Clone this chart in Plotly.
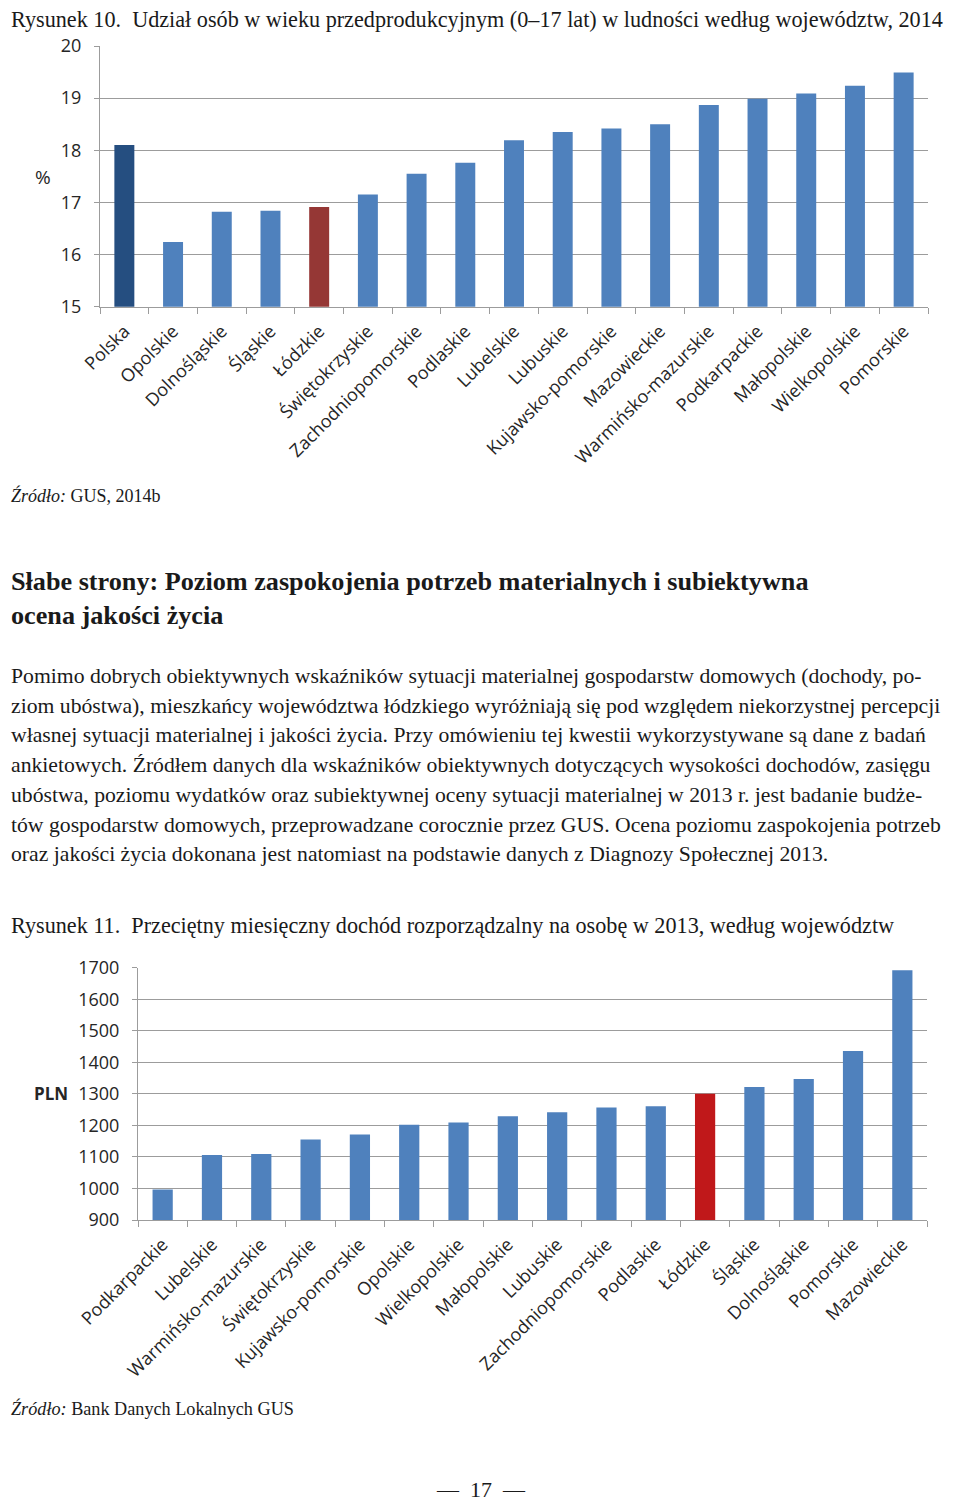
import plotly.graph_objects as go

# ---------- Data ----------
cats1 = ["Polska", "Opolskie", "Dolnośląskie", "Śląskie", "Łódzkie", "Świętokrzyskie",
         "Zachodniopomorskie", "Podlaskie", "Lubelskie", "Lubuskie", "Kujawsko-pomorskie",
         "Mazowieckie", "Warmińsko-mazurskie", "Podkarpackie", "Małopolskie",
         "Wielkopolskie", "Pomorskie"]
vals1 = [18.1, 16.24, 16.82, 16.84, 16.91, 17.15, 17.55, 17.76, 18.19, 18.35, 18.42,
         18.50, 18.87, 18.99, 19.09, 19.24, 19.49]

cats2 = ["Podkarpackie", "Lubelskie", "Warmińsko-mazurskie", "Świętokrzyskie",
         "Kujawsko-pomorskie", "Opolskie", "Wielkopolskie", "Małopolskie", "Lubuskie",
         "Zachodniopomorskie", "Podlaskie", "Łódzkie", "Śląskie", "Dolnośląskie",
         "Pomorskie", "Mazowieckie"]
vals2 = [997, 1106, 1109, 1155, 1171, 1202, 1209, 1229, 1242, 1257, 1261, 1300, 1322,
         1347, 1436, 1692]

yticks1 = [15, 16, 17, 18, 19, 20]
yticks2 = [900, 1000, 1100, 1200, 1300, 1400, 1500, 1600, 1700]

BLUE = "#4F81BD"
DARK = "#254E80"
RED1 = "#953735"
RED2 = "#C0181A"

colors1 = [DARK if c == "Polska" else (RED1 if c == "Łódzkie" else BLUE) for c in cats1]
colors2 = [RED2 if c == "Łódzkie" else BLUE for c in cats2]

# page body has an 8px margin; figure sized to fit the 960x1501 window
OFF = 8
W, H = 960 - OFF, 1501 - OFF
def px(x): return (x - OFF) / W
def py(y): return 1 - (y - OFF) / H

fig = go.Figure()
fig.add_trace(go.Bar(x=cats1, y=vals1, marker=dict(color=colors1, line=dict(width=0)),
                     xaxis="x", yaxis="y", showlegend=False))
fig.add_trace(go.Bar(x=cats2, y=vals2, marker=dict(color=colors2, line=dict(width=0)),
                     xaxis="x2", yaxis="y2", showlegend=False))

GRID = "#9C9C9C"
tickfont = dict(family="Open Sans", size=18, color="#262626")
common_x = dict(type="category", tickangle=-45, ticks="outside", tickson="boundaries",
                ticklen=6, tickcolor=GRID, showline=True, linecolor=GRID, linewidth=1,
                showgrid=False, tickfont=tickfont, fixedrange=True, automargin=False,
                ticklabelstandoff=6)
common_y = dict(ticks="outside", ticklen=5, tickcolor=GRID, showline=True, linecolor=GRID,
                linewidth=1, showgrid=True, gridcolor=GRID, gridwidth=1,
                tickfont=dict(family="Open Sans", size=18, color="#262626"),
                zeroline=False, fixedrange=True, automargin=False, ticklabelstandoff=9)

fig.update_layout(
    width=W, height=H, autosize=False,
    margin=dict(l=0, r=0, t=0, b=0, pad=0),
    paper_bgcolor="white", plot_bgcolor="white",
    bargap=0.59,
    xaxis=dict(domain=[px(100), px(928)], anchor="y", **common_x),
    yaxis=dict(domain=[py(306.7), py(46)], anchor="x", range=[15, 20],
               tickvals=yticks1, **common_y),
    xaxis2=dict(domain=[px(138), px(927)], anchor="y2", **common_x),
    yaxis2=dict(domain=[py(1220), py(967.7)], anchor="x2", range=[900, 1700],
                tickvals=yticks2, **common_y),
)

SERIF = "Liberation Serif"
ann = []
def text(x, y, s, size=20, color="#1a1a1a", family=SERIF, xanchor="left"):
    ann.append(dict(x=px(x), y=py(y), xref="paper", yref="paper", text=s,
                    showarrow=False, xanchor=xanchor, yanchor="middle",
                    font=dict(family=family, size=size, color=color)))

LX = 9
text(LX, 19, "Rysunek 10.  Udział osób w wieku przedprodukcyjnym (0–17 lat) w ludności według województw, 2014", size=22.2)
text(33, 177, "%", size=19, family="Open Sans", color="#262626")
text(LX, 495, "<i>Źródło:</i> GUS, 2014b", size=18)
text(LX, 581, "<b>Słabe strony: Poziom zaspokojenia potrzeb materialnych i subiektywna</b>", size=26.2)
text(LX, 615, "<b>ocena jakości życia</b>", size=26.2)

para = [
    "Pomimo dobrych obiektywnych wskaźników sytuacji materialnej gospodarstw domowych (dochody, po-",
    "ziom ubóstwa), mieszkańcy województwa łódzkiego wyróżniają się pod względem niekorzystnej percepcji",
    "własnej sytuacji materialnej i jakości życia. Przy omówieniu tej kwestii wykorzystywane są dane z badań",
    "ankietowych. Źródłem danych dla wskaźników obiektywnych dotyczących wysokości dochodów, zasięgu",
    "ubóstwa, poziomu wydatków oraz subiektywnej oceny sytuacji materialnej w 2013 r. jest badanie budże-",
    "tów gospodarstw domowych, przeprowadzane corocznie przez GUS. Ocena poziomu zaspokojenia potrzeb",
    "oraz jakości życia dokonana jest natomiast na podstawie danych z Diagnozy Społecznej 2013.",
]
for i, line in enumerate(para):
    text(LX, 676 + i * 29.7, line, size=21.7)

text(LX, 925, "Rysunek 11.  Przeciętny miesięczny dochód rozporządzalny na osobę w 2013, według województw", size=22.2)
text(32, 1093, "<b>PLN</b>", size=17, family="Open Sans", color="#262626")
text(LX, 1408, "<i>Źródło:</i> Bank Danych Lokalnych GUS", size=18.2)
text(481, 1489, "—  17  —", size=22, xanchor="center")

fig.update_layout(annotations=ann)
fig.write_html("out.html")
